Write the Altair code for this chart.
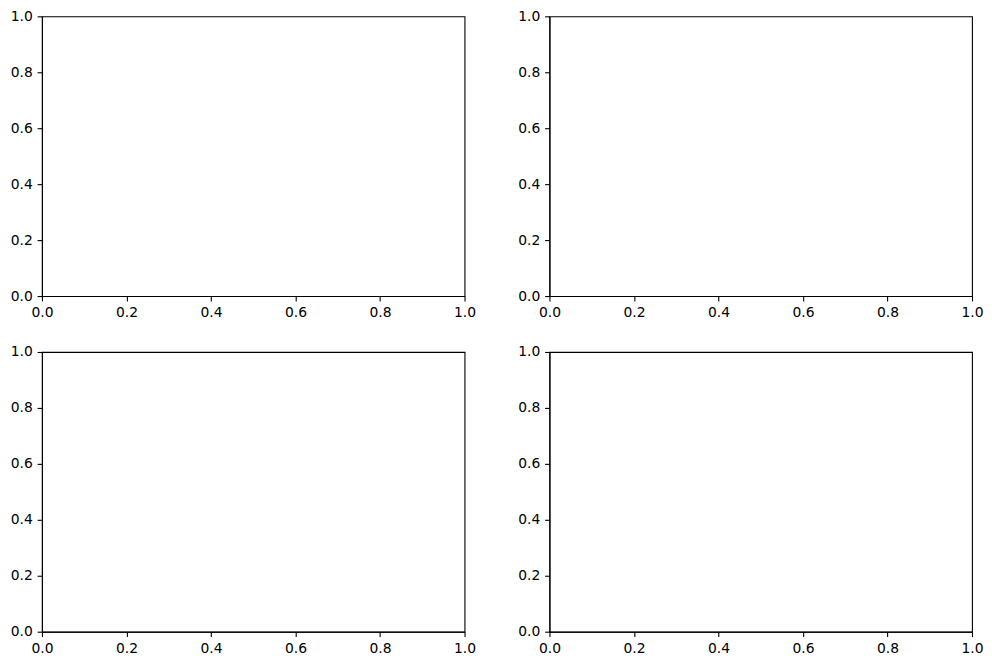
import altair as alt
import pandas as pd

# Panel layout: 2 x 2 grid of empty axes
panels = ["ax1", "ax2", "ax3", "ax4"]
tick_values = [0.0, 0.2, 0.4, 0.6, 0.8, 1.0]
x_domain = [0.0, 1.0]
y_domain = [0.0, 1.0]

data = pd.DataFrame({"x": tick_values, "y": tick_values})

def panel(name):
    return (
        alt.Chart(data)
        .mark_point(opacity=0)
        .encode(
            x=alt.X("x:Q", scale=alt.Scale(domain=x_domain, nice=False, zero=False),
                    axis=alt.Axis(values=tick_values, format=".1f", title=None)),
            y=alt.Y("y:Q", scale=alt.Scale(domain=y_domain, nice=False, zero=False),
                    axis=alt.Axis(values=tick_values, format=".1f", title=None)),
        )
        .properties(width=423, height=280)
    )

chart = (
    alt.concat(*[panel(p) for p in panels], columns=2,
               spacing={"row": 56, "column": 85}, bounds="flush")
    .properties(padding={"left": 1, "top": 0, "right": 0, "bottom": 0},
                background="white")
    .configure_view(stroke="black", strokeWidth=1.1, fill="white")
    .configure_axis(
        grid=False,
        domain=True,
        domainColor="black",
        domainWidth=1.1,
        tickColor="black",
        tickWidth=1.1,
        tickSize=4.86,
        labelPadding=4.86,
        labelColor="black",
        labelFont="DejaVu Sans",
        labelFontSize=13.9,
        labelFlush=False,
        labelOverlap=False,
    )
)

chart.save("out.html", embed_options={"renderer": "svg", "actions": False})
